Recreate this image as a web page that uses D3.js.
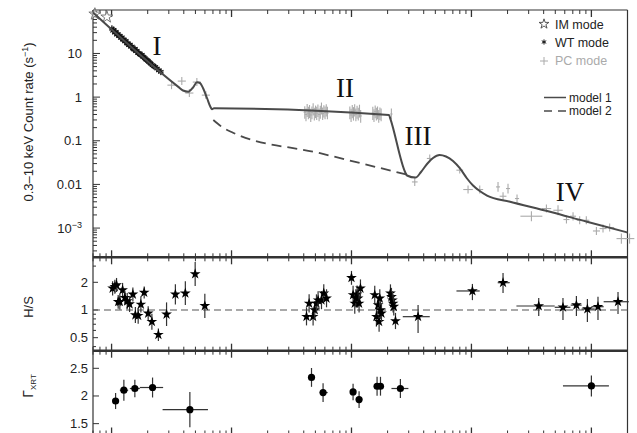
<!DOCTYPE html>
<html><head><meta charset="utf-8">
<script src="https://cdn.jsdelivr.net/npm/d3@7"></script>
<style>body{margin:0;background:#fff}svg{display:block}</style>
</head><body><svg id="c" width="637" height="433"></svg>
<script>
// ---------------- DATA ----------------
// IM mode (top panel): [time s, rate]
const imData = [[72.6, 80], [91.4, 68.4]];
// WT mode (top panel): [time s, rate]
const wtData = [[100.6,37],[102.5,33],[104,35],[106.5,30],[108.5,31.5],[110.7,27],[113,28],[115,25.5],[117,25],[119.6,22.5],
 [122,23.5],[124.2,21],[126.5,20.5],[129,18.8],[131.5,19.5],[134.2,17],[137,16.8],[139.4,15.5],[142,16],[145,14.2],
 [148,14.5],[150.6,13],[153,12.4],[156.4,12.8],[160,11.2],[162.6,11.6],[166,10.3],[169,10.1],[172,9.6],[175.5,9.2],
 [179,9.3],[182.4,8.4],[186,8.2],[189.6,7.8],[193,7.3],[197,7.1],[201,6.8],[204.7,6.4],[209,6.1],[212.7,5.8],
 [219,5.4],[225.3,5.1],[232,4.9],[238.6,4.5],[248,4.1],[257.5,3.8]];
// PC mode dense plateau points: [time, rate, rateLow, rateHigh]
const pcDense = [[4080,0.45,0.32,0.62],[4175,0.40,0.28,0.55],[4270,0.50,0.35,0.70],[4370,0.43,0.31,0.60],[4470,0.47,0.33,0.66],
 [4575,0.39,0.27,0.54],[4680,0.44,0.31,0.61],[4790,0.52,0.38,0.72],[4900,0.41,0.29,0.57],[5015,0.46,0.33,0.64],
 [5130,0.43,0.30,0.60],[5250,0.49,0.35,0.68],[5370,0.40,0.28,0.55],[5495,0.45,0.32,0.63],[5620,0.55,0.40,0.75],
 [5750,0.42,0.30,0.58],[5885,0.47,0.34,0.65],[6020,0.44,0.31,0.61],[6160,0.50,0.36,0.69],[6300,0.43,0.31,0.60],
 [9690,0.44,0.31,0.61],[9920,0.39,0.27,0.54],[10150,0.47,0.33,0.66],[10390,0.42,0.29,0.59],[10630,0.50,0.36,0.69],
 [10880,0.40,0.28,0.55],[11130,0.45,0.32,0.63],[11390,0.41,0.29,0.57],[11660,0.48,0.34,0.67],[11930,0.37,0.26,0.51],
 [15060,0.43,0.30,0.60],[15400,0.38,0.27,0.53],[15760,0.46,0.33,0.64],[16120,0.41,0.29,0.57],[16490,0.44,0.31,0.61],
 [16870,0.37,0.26,0.51],[17260,0.42,0.30,0.58],[17660,0.40,0.28,0.55],[21500,0.41,0.31,0.55]];
// PC mode binned points: [time, tLow, tHigh, rate, rateLow, rateHigh]
const pcData = [[316,292,342,1.88,1.52,2.32],[385,356,416,2.33,1.89,2.88],[445,412,481,1.24,1.0,1.53],
 [514,475,556,2.21,1.79,2.73],[611,565,660,1.11,0.90,1.37],
 [33690,31900,35600,0.0114,0.0092,0.0141],[44930,42500,47500,0.0393,0.032,0.0485],
 [79890,74900,85300,0.0212,0.0178,0.0253],[93700,85500,102700,0.00764,0.0062,0.0094],
 [117300,109900,125200,0.00764,0.0062,0.0094],[166600,160300,173200,0.00877,0.0068,0.0114],
 [201800,194100,209900,0.00805,0.0062,0.0104],[183400,171800,195800,0.00536,0.0043,0.0066],
 [239900,230600,249500,0.00475,0.0038,0.0059],[316200,256000,390000,0.00187,0.00144,0.00243],
 [421700,384700,462300,0.0028,0.00227,0.00346],[526900,481800,576200,0.00256,0.00197,0.00333],
 [619500,584600,656400,0.00157,0.00127,0.00194],[703000,663000,745000,0.00187,0.0015,0.0023],
 [799000,754000,847000,0.00151,0.00122,0.00187],[907000,856000,961000,0.00151,0.00122,0.00187],
 [1.101e6,1.03e6,1.18e6,8.58e-4,6.9e-4,1.06e-3],[1.25e6,1.17e6,1.34e6,9.74e-4,7.9e-4,1.2e-3],
 [1.42e6,1.30e6,1.55e6,1.03e-3,8.4e-4,1.27e-3],[1.778e6,1.62e6,1.95e6,5.74e-4,4.4e-4,7.5e-4],
 [2.08e6,1.90e6,2.28e6,5.74e-4,4.4e-4,7.5e-4]];
// Model 1 (solid) and model 2 (dashed)
const model1T = [70,357.9,393.9,436.1,477.4,515.3,545.8,578.2,624.4,667.8,687.3,714.2,20550,21070,28100,29040,34190,37980,42630,47830,54180,61380,70220,80290,91870,103100,115700,134900,209700,451900,919300,2.0e6];
const model1R = [86.8,1.741,1.418,1.331,1.661,2.196,2.106,1.618,0.954,0.5935,0.526,0.5544,0.3894,0.322,0.01875,0.01601,0.01433,0.01925,0.02936,0.04029,0.04721,0.04361,0.03439,0.02316,0.01367,0.00944,0.00726,0.00557,0.00402,0.00237,0.00139,7.92e-4];
const model2T = [704.7,832.9,1029,5465,28490];
const model2R = [0.299,0.2067,0.153,0.0519,0.01688];
// H/S hardness ratio: [time, tLow, tHigh, hs, hsLow, hsHigh]
const hsData = [[102,100,104,1.72,1.44,2.05],[106.5,104.5,108.5,1.79,1.50,2.13],[110,108,112,1.87,1.57,2.23],
 [113.5,111.5,115.5,1.23,1.03,1.46],[117.2,115,119.4,1.23,1.01,1.50],[123.5,121,126,1.65,1.39,1.97],
 [129.1,126.5,131.7,1.36,1.14,1.62],[135,132.3,137.7,1.25,1.02,1.53],[141.3,138.5,144.1,1.16,0.95,1.42],
 [150.5,147.5,153.5,1.48,1.24,1.76],[157.9,154.7,161.1,0.88,0.72,1.08],[166.6,163.2,170,0.867,0.71,1.06],
 [175.5,172,179,1.15,0.94,1.41],[187,183,191,1.55,1.33,1.80],[201.9,197.8,206,0.92,0.77,1.10],
 [216.8,212.4,221.2,0.746,0.61,0.91],[245.6,238,253,0.539,0.46,0.63],[287.3,278,297,0.898,0.67,1.21],
 [340.3,325,356,1.48,1.15,1.90],[412,395,430,1.52,1.13,2.05],[497.5,485,510,2.46,1.82,3.32],[599,585,613,1.11,0.82,1.50],
 [4217,4150,4285,0.846,0.68,1.06],[4434,4365,4505,1.18,0.94,1.48],[4786,4710,4860,0.846,0.68,1.06],
 [4943,4865,5020,1.0,0.80,1.25],[5105,5025,5185,1.18,0.94,1.48],[5268,5185,5350,1.28,1.02,1.60],
 [5623,5535,5710,1.28,1.02,1.60],[5875,5785,5965,1.52,1.22,1.90],[6194,6100,6290,1.34,1.07,1.68],
 [10000,9850,10150,2.24,1.88,2.66],[10310,10150,10470,1.46,1.17,1.83],[10650,10490,10810,1.18,0.91,1.53],
 [10860,10700,11020,1.34,1.07,1.68],[11140,10970,11310,1.48,1.18,1.85],[11350,11180,11520,1.34,1.07,1.68],
 [11570,11400,11740,1.18,0.94,1.48],[11880,11700,12060,1.72,1.38,2.15],
 [15630,15390,15870,1.46,1.17,1.83],[16140,15900,16380,0.846,0.66,1.08],[16670,16420,16920,1.13,0.90,1.41],
 [16990,16740,17240,0.746,0.58,0.96],[17220,16960,17480,1.34,1.07,1.68],[17460,17200,17720,1.0,0.80,1.25],
 [17780,17510,18050,0.92,0.74,1.15],
 [21130,20820,21440,1.52,1.22,1.90],[21540,21220,21860,1.39,1.11,1.74],[21960,21630,22290,1.28,1.02,1.60],
 [22220,21890,22550,1.18,0.94,1.48],[22510,22170,22850,1.09,0.87,1.36],[23270,22920,23620,0.76,0.62,0.93],
 [35900,26760,44930,0.846,0.563,1.13],[101900,75000,117200,1.61,1.28,1.92],[183400,165600,208300,1.98,1.53,2.52],
 [363900,237100,494600,1.105,0.86,1.35],[579500,494600,668300,1.07,0.78,1.35],[750000,672400,829000,1.13,0.86,1.42],
 [926000,829000,1.066e6,1.025,0.74,1.32],[1.135e6,1.0e6,1.265e6,1.086,0.78,1.39],[1.667e6,1.265e6,2.05e6,1.23,0.905,1.57]];
// Photon index: [time, tLow, tHigh, gamma, gammaErr]
const gammaData = [[108,104.5,111.8,1.909,0.145],[126.6,117.2,137.5,2.104,0.19],[156.3,142,172,2.135,0.16],
 [219.6,172,269,2.153,0.18],[449.4,266.2,636,1.753,0.32],[4642,4390,4910,2.335,0.17],[5796,5440,6330,2.062,0.17],
 [10310,10000,10630,2.073,0.15],[11570,11220,11930,1.935,0.15],[16340,15850,16850,2.176,0.17],
 [17450,16920,18000,2.176,0.17],[25570,21540,29810,2.135,0.17],[1.0e6,579400,1.40e6,2.182,0.19]];
// Tick labels
const rateLabelVals = [10, 1, 0.1, 0.01, 0.001];
const rateLabels = ["10", "1", "0.1", "0.01", "10^-3"];
const hsLabelVals = [0.5, 1, 2];
const hsLabels = ["0.5", "1", "2"];
const gammaLabelVals = [1.5, 2, 2.5];
const gammaLabels = ["1.5", "2", "2.5"];
const phaseLabels = [["I", 157], ["II", 345], ["III", 418], ["IV", 570]];
const phaseLabelY = [55, 97, 145, 201];

// ---------------- DRAW ----------------
const svg = d3.select('#c');
const FS = "'Liberation Sans', Arial, Helvetica, sans-serif";
const L = 93, R = 627.5, T = 10, B1 = 257.3, B2 = 350.7, B3 = 434.5;
const x = d3.scaleLog().domain([70, 2e6]).range([L, R]);
const yR = d3.scaleLog().domain([2.14e-4, 99]).range([B1, T]);
const yH = d3.scaleLog().domain([0.361, 3.74]).range([B2, B1]);
const yG = d3.scaleLinear().domain([1.304, 2.818]).range([B3, B2]);
const isPow10 = v => Math.abs(Math.log10(v) - Math.round(Math.log10(v))) < 1e-6;

const gAx = svg.append('g').attr('stroke', '#333').attr('stroke-width', 1);
const xt = x.ticks();
function xTicks(y, dir) {
  xt.forEach(v => {
    const m = isPow10(v);
    gAx.append('line').attr('x1', x(v)).attr('x2', x(v)).attr('y1', y).attr('y2', y + dir * (m ? 7 : 4))
      .attr('stroke-width', m ? 1.3 : 1);
  });
}
xTicks(T, 1); xTicks(B1, -1); xTicks(B1, 1); xTicks(B2, -1); xTicks(B2, 1); xTicks(B3, -1);
yR.ticks().forEach(v => {
  const m = isPow10(v);
  gAx.append('line').attr('x1', L).attr('x2', L + (m ? 7 : 4)).attr('y1', yR(v)).attr('y2', yR(v));
});
yH.ticks().forEach(v => {
  const m = hsLabelVals.includes(+v.toFixed(3));
  gAx.append('line').attr('x1', L).attr('x2', L + (m ? 5 : 3)).attr('y1', yH(v)).attr('y2', yH(v));
});
gammaLabelVals.forEach(v => {
  gAx.append('line').attr('x1', L).attr('x2', L + 6).attr('y1', yG(v)).attr('y2', yG(v));
});

// frames
const fr = svg.append('g').attr('fill', 'none').attr('stroke', '#333');
fr.append('line').attr('x1', L).attr('x2', R).attr('y1', T).attr('y2', T).attr('stroke-width', 1.2);
fr.append('line').attr('x1', L).attr('x2', L).attr('y1', T).attr('y2', B3).attr('stroke-width', 1.2);
fr.append('line').attr('x1', R).attr('x2', R).attr('y1', T).attr('y2', B3).attr('stroke-width', 1.2);
[B1, B2].forEach(y => fr.append('line').attr('x1', L).attr('x2', R).attr('y1', y).attr('y2', y).attr('stroke-width', 2.6));
fr.append('line').attr('x1', L).attr('x2', R).attr('y1', B3).attr('y2', B3).attr('stroke-width', 1.2);

// tick labels
const tl = svg.append('g').attr('font-family', FS).attr('font-size', 13).attr('fill', '#222').attr('text-anchor', 'end');
rateLabelVals.forEach((v, i) => {
  const s = rateLabels[i];
  const t = tl.append('text').attr('y', yR(v) + 4.5).attr('x', 82);
  if (s.includes('^')) {
    const [b, e] = s.split('^');
    t.append('tspan').text(b);
    t.append('tspan').attr('dy', -5).attr('font-size', 9).text(e.replace('-', '\u2212'));
  } else t.text(s);
});
hsLabelVals.forEach((v, i) => tl.append('text').attr('x', 88).attr('y', yH(v) + 4.5).text(hsLabels[i]));
gammaLabelVals.forEach((v, i) => tl.append('text').attr('x', 88).attr('y', yG(v) + 4.5).text(gammaLabels[i]));

// axis titles
const yl = svg.append('text').attr('font-family', FS).attr('font-size', 13).attr('fill', '#222')
  .attr('text-anchor', 'middle').attr('transform', 'translate(33,122) rotate(-90)');
yl.append('tspan').text('0.3\u201310 keV Count rate (s');
yl.append('tspan').attr('dy', -5).attr('font-size', 9).text('\u22121');
yl.append('tspan').attr('dy', 5).text(')');
svg.append('text').attr('font-family', FS).attr('font-size', 13).attr('fill', '#222')
  .attr('text-anchor', 'middle').attr('transform', 'translate(33,307) rotate(-90)').text('H/S');
const gl = svg.append('text').attr('font-family', FS).attr('font-size', 14).attr('fill', '#222')
  .attr('text-anchor', 'middle').attr('transform', 'translate(33,386) rotate(-90)');
gl.append('tspan').text('\u0393');
gl.append('tspan').attr('dy', 3).attr('font-size', 8).text('XRT');

// ---- top panel data ----
const gd = svg.append('g');
pcDense.forEach(d => {
  gd.append('line').attr('x1', x(d[0])).attr('x2', x(d[0])).attr('y1', yR(d[2])).attr('y2', yR(d[3]))
    .attr('stroke', '#aaa').attr('stroke-width', 1.1);
  gd.append('line').attr('x1', x(d[0]) - 1.2).attr('x2', x(d[0]) + 1.2).attr('y1', yR(d[1])).attr('y2', yR(d[1]))
    .attr('stroke', '#aaa').attr('stroke-width', 1);
});
pcData.forEach(d => {
  gd.append('line').attr('x1', x(d[1])).attr('x2', x(d[2])).attr('y1', yR(d[3])).attr('y2', yR(d[3]))
    .attr('stroke', '#aaa').attr('stroke-width', 1.1);
  gd.append('line').attr('x1', x(d[0])).attr('x2', x(d[0])).attr('y1', yR(d[4])).attr('y2', yR(d[5]))
    .attr('stroke', '#aaa').attr('stroke-width', 1.1);
});
const ast = d3.symbolAsterisk || d3.symbolCross;
wtData.forEach(d => {
  gd.append('line').attr('x1', x(d[0])).attr('x2', x(d[0])).attr('y1', yR(d[1]) - 3.5).attr('y2', yR(d[1]) + 3.5)
    .attr('stroke', '#888').attr('stroke-width', 1);
  gd.append('line').attr('x1', x(d[0]) - 3).attr('x2', x(d[0]) + 3).attr('y1', yR(d[1])).attr('y2', yR(d[1]))
    .attr('stroke', '#888').attr('stroke-width', 1);
});
wtData.forEach(d => {
  gd.append('path').attr('d', d3.symbol().type(ast).size(26)())
    .attr('transform', `translate(${x(d[0])},${yR(d[1])})`)
    .attr('fill', d3.symbolAsterisk ? 'none' : '#111').attr('stroke', '#111').attr('stroke-width', 1.1);
});
imData.forEach(d => {
  gd.append('path').attr('d', d3.symbol().type(d3.symbolStar).size(45)())
    .attr('transform', `translate(${x(d[0])},${yR(d[1])})`)
    .attr('fill', '#fff').attr('fill-opacity', 0.6).attr('stroke', '#777').attr('stroke-width', 1);
});
// models
const line = d3.line().curve(d3.curveMonotoneX);
svg.append('path').attr('d', line(model1T.map((t, i) => [x(t), yR(model1R[i])])))
  .attr('fill', 'none').attr('stroke', '#4a4a4a').attr('stroke-width', 2);
svg.append('path').attr('d', line(model2T.map((t, i) => [x(t), yR(model2R[i])])))
  .attr('fill', 'none').attr('stroke', '#4a4a4a').attr('stroke-width', 1.8).attr('stroke-dasharray', '10,6');

// phase labels
phaseLabels.forEach((p, i) => svg.append('text').attr('x', p[1]).attr('y', phaseLabelY[i])
  .attr('font-family', "'Liberation Serif', 'Times New Roman', serif").attr('font-size', 27)
  .attr('fill', '#111').attr('text-anchor', 'middle').text(p[0]));

// legend
const lg = svg.append('g').attr('font-family', FS).attr('font-size', 12.5);
lg.append('path').attr('d', d3.symbol().type(d3.symbolStar).size(30)()).attr('transform', 'translate(544,24)')
  .attr('fill', 'none').attr('stroke', '#444').attr('stroke-width', 0.9);
lg.append('text').attr('x', 555).attr('y', 28.5).attr('fill', '#222').text('IM mode');
lg.append('path').attr('d', d3.symbol().type(ast).size(18)()).attr('transform', 'translate(544,42)')
  .attr('fill', d3.symbolAsterisk ? 'none' : '#111').attr('stroke', '#111').attr('stroke-width', 1);
lg.append('text').attr('x', 555).attr('y', 46.5).attr('fill', '#222').text('WT mode');
lg.append('line').attr('x1', 540).attr('x2', 548).attr('y1', 61).attr('y2', 61).attr('stroke', '#aaa');
lg.append('line').attr('x1', 544).attr('x2', 544).attr('y1', 57).attr('y2', 65).attr('stroke', '#aaa');
lg.append('text').attr('x', 555).attr('y', 65).attr('fill', '#aaa').text('PC mode');
const lg2 = svg.append('g').attr('font-family', FS).attr('font-size', 12);
lg2.append('line').attr('x1', 544).attr('x2', 566).attr('y1', 97.5).attr('y2', 97.5).attr('stroke', '#4a4a4a').attr('stroke-width', 1.5);
lg2.append('text').attr('x', 569).attr('y', 101.5).attr('fill', '#222').text('model 1');
lg2.append('line').attr('x1', 544).attr('x2', 566).attr('y1', 111).attr('y2', 111).attr('stroke', '#4a4a4a')
  .attr('stroke-width', 1.5).attr('stroke-dasharray', '8,6');
lg2.append('text').attr('x', 569).attr('y', 115).attr('fill', '#222').text('model 2');

// ---- H/S panel ----
svg.append('line').attr('x1', L).attr('x2', R).attr('y1', yH(1)).attr('y2', yH(1))
  .attr('stroke', '#555').attr('stroke-width', 1.2).attr('stroke-dasharray', '7,4');
const gh = svg.append('g');
hsData.forEach(d => {
  gh.append('line').attr('x1', x(d[1])).attr('x2', x(d[2])).attr('y1', yH(d[3])).attr('y2', yH(d[3]))
    .attr('stroke', '#333').attr('stroke-width', 1.2);
  gh.append('line').attr('x1', x(d[0])).attr('x2', x(d[0])).attr('y1', yH(d[4])).attr('y2', yH(d[5]))
    .attr('stroke', '#333').attr('stroke-width', 1.2);
  gh.append('path').attr('d', d3.symbol().type(d3.symbolStar).size(36)())
    .attr('transform', `translate(${x(d[0])},${yH(d[3])})`).attr('fill', '#000');
});

// ---- Gamma panel ----
const gg = svg.append('g');
gammaData.forEach(d => {
  gg.append('line').attr('x1', x(d[1])).attr('x2', x(d[2])).attr('y1', yG(d[3])).attr('y2', yG(d[3]))
    .attr('stroke', '#333').attr('stroke-width', 1.2);
  gg.append('line').attr('x1', x(d[0])).attr('x2', x(d[0])).attr('y1', yG(d[3] - d[4])).attr('y2', yG(d[3] + d[4]))
    .attr('stroke', '#333').attr('stroke-width', 1.2);
  gg.append('circle').attr('cx', x(d[0])).attr('cy', yG(d[3])).attr('r', 3.6).attr('fill', '#000');
});
</script></body></html>
